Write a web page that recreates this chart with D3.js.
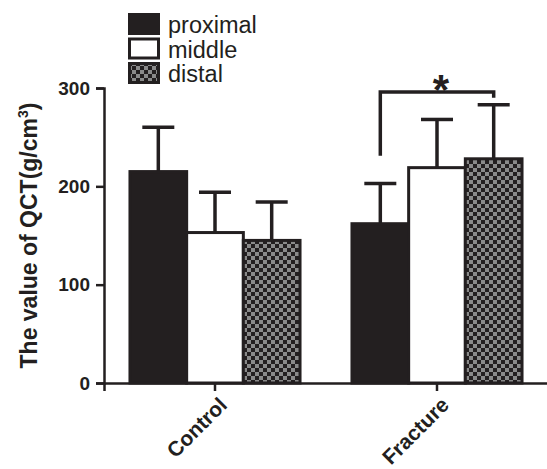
<!DOCTYPE html>
<html>
<head>
<meta charset="utf-8">
<script src="https://cdn.jsdelivr.net/npm/d3@7"></script>
<style>
  body { margin: 0; background: #fff; }
  svg text { font-family: "Liberation Sans", Arial, Helvetica, sans-serif; fill: #231f20; }
</style>
</head>
<body>
<svg id="chart" width="547" height="469"></svg>
<script>
// data
const groups = ['Control', 'Fracture']
const series = ['proximal', 'middle', 'distal']
const means = [
  [215, 153, 145],
  [162, 219, 228],
]
const upper = [
  [260, 194, 184],
  [203, 268, 283],
]
const yTicks = [0, 100, 200, 300]

const ink = '#231f20'
const svg = d3.select('#chart')

// checker fill for the distal bars
const defs = svg.append('defs')
const pat = defs.append('pattern')
  .attr('id', 'checker')
  .attr('patternUnits', 'userSpaceOnUse')
  .attr('width', 8).attr('height', 8)
pat.append('rect').attr('width', 8).attr('height', 8).attr('fill', '#8a8a8a')
pat.append('rect').attr('width', 4).attr('height', 4).attr('fill', ink)
pat.append('rect').attr('x', 4).attr('y', 4).attr('width', 4).attr('height', 4).attr('fill', ink)

const fills = { proximal: ink, middle: '#fff', distal: 'url(#checker)' }

const x0 = d3.scaleBand().domain(groups).range([104, 548]).padding(0)
const inner = x0.bandwidth() * 0.766
const x1 = d3.scaleBand().domain(series).range([-inner / 2, inner / 2])
const y = d3.scaleLinear().domain([0, 300]).range([383, 88])

// bars + error bars
groups.forEach(function(g, gi) {
  let cx = x0(g) + x0.bandwidth() / 2
  let gg = svg.append('g').attr('transform', 'translate(' + cx + ',0)')
  series.forEach(function(s, si) {
    let bx = x1(s)
    let mid = bx + x1.bandwidth() / 2
    gg.append('line')
      .attr('x1', mid).attr('x2', mid)
      .attr('y1', y(means[gi][si])).attr('y2', y(upper[gi][si]))
      .attr('stroke', ink).attr('stroke-width', 3.5)
    gg.append('line')
      .attr('x1', mid - 16).attr('x2', mid + 16)
      .attr('y1', y(upper[gi][si])).attr('y2', y(upper[gi][si]))
      .attr('stroke', ink).attr('stroke-width', 3.5)
    gg.append('rect')
      .attr('x', bx).attr('y', y(means[gi][si]))
      .attr('width', x1.bandwidth())
      .attr('height', y(0) - y(means[gi][si]))
      .attr('fill', fills[s])
      .attr('stroke', ink).attr('stroke-width', 3)
  })
})

// axes
const yAxis = svg.append('g')
  .attr('transform', 'translate(104,0)')
  .call(d3.axisLeft(y).tickValues(yTicks).tickSizeOuter(0).tickSize(8).tickPadding(6))
yAxis.selectAll('path, line').attr('stroke', ink).attr('stroke-width', 2.5)
yAxis.selectAll('text').attr('font-size', 19).attr('font-weight', 'bold').attr('fill', ink)

const xAxis = svg.append('g')
  .attr('transform', 'translate(0,383)')
  .call(d3.axisBottom(x0).tickSizeOuter(0).tickSize(8).tickPadding(6))
xAxis.selectAll('path, line').attr('stroke', ink).attr('stroke-width', 2.5)
xAxis.selectAll('text')
  .attr('font-size', 21).attr('font-weight', 'bold').attr('fill', ink)
  .attr('text-anchor', 'end')
  .attr('dy', '0.5em')
  .attr('transform', 'translate(-4,6) rotate(-45)')

// y axis title
svg.append('text')
  .attr('transform', 'translate(37,' + y(150) + ') rotate(-90)')
  .attr('text-anchor', 'middle')
  .attr('font-size', 23).attr('font-weight', 'bold')
  .html('The value of QCT(g/cm<tspan dy="-9" font-size="14">3</tspan><tspan dy="9">)</tspan>')

// significance bracket between Fracture proximal and distal
const fx = x0('Fracture') + x0.bandwidth() / 2
const bl = fx + x1('proximal') + x1.bandwidth() / 2
const br = fx + x1('distal') + x1.bandwidth() / 2
svg.append('path')
  .attr('d', d3.line()([[bl, y(231)], [bl, y(296)], [br, y(296)], [br, y(290)]]))
  .attr('fill', 'none').attr('stroke', ink).attr('stroke-width', 3.5)
svg.append('text')
  .attr('x', (bl + br) / 2 + 4).attr('y', y(296) + 12)
  .attr('text-anchor', 'middle')
  .attr('font-size', 42).attr('font-weight', 'bold')
  .text('*')

// legend
const lg = svg.append('g').attr('transform', 'translate(128,13)')
series.forEach(function(s, i) {
  let row = lg.append('g').attr('transform', 'translate(0,' + i * 24.5 + ')')
  row.append('rect')
    .attr('x', 1.5).attr('y', 1.5).attr('width', 29).attr('height', 19)
    .attr('fill', fills[s]).attr('stroke', ink).attr('stroke-width', 3)
  row.append('text')
    .attr('x', 40).attr('y', 20)
    .attr('font-size', 23.5)
    .text(s)
})
</script>
</body>
</html>
